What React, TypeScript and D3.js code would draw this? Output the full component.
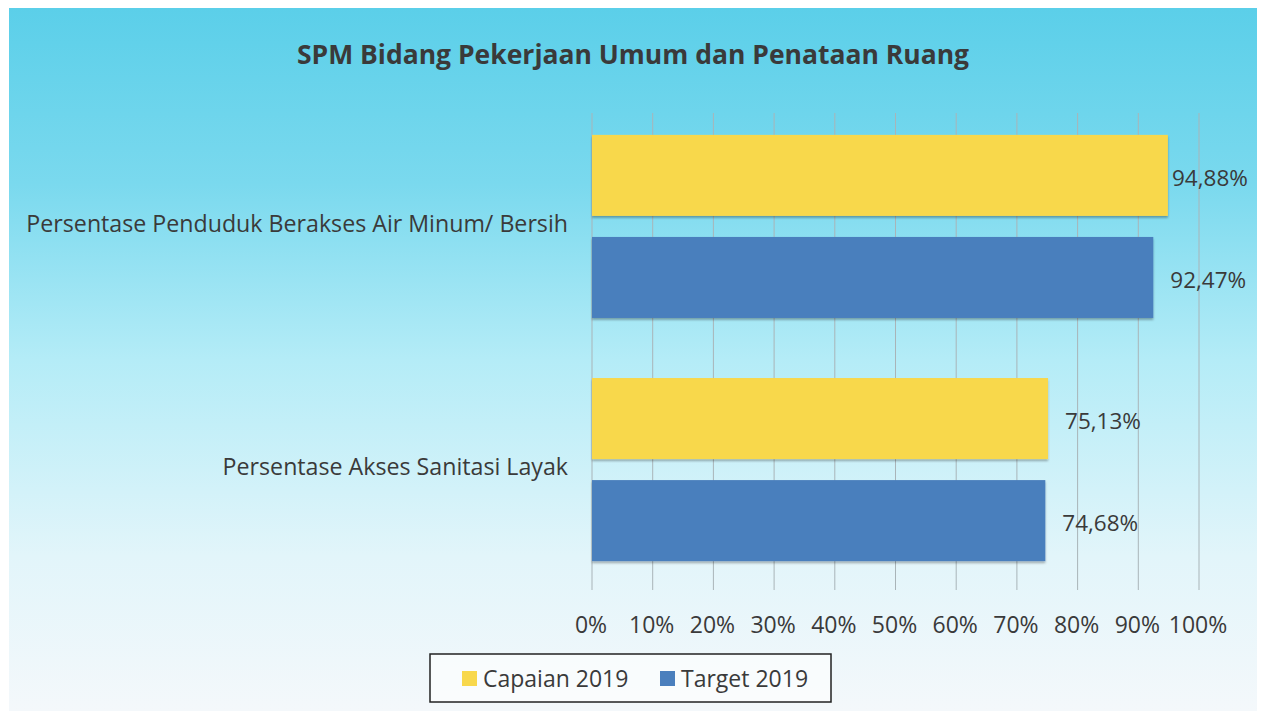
import React from "react";
import * as d3 from "d3";

const categories = [
  "Persentase Penduduk Berakses Air Minum/ Bersih",
  "Persentase Akses Sanitasi Layak",
];
const seriesNames = ["Capaian 2019", "Target 2019"];
const capaian = [94.88, 75.13];
const target = [92.47, 74.68];
const valueLabels = [
  ["94,88%", "92,47%"],
  ["75,13%", "74,68%"],
];
const xTicks = [0, 10, 20, 30, 40, 50, 60, 70, 80, 90, 100];
const title = "SPM Bidang Pekerjaan Umum dan Penataan Ruang";

const W = 1263;
const H = 711;
const FONT = "'Open Sans', Lato, sans-serif";
const TEXT = "#3a3a3a";
const colors = ["#f8d84c", "#4a7fbd"];

export default function App() {
  const plotLeft = 592;
  const plotRight = 1199;
  const plotTop = 113;
  const plotBottom = 590;

  const x = d3.scaleLinear().domain([0, 100]).range([plotLeft, plotRight]);
  const y0 = d3
    .scaleBand<string>()
    .domain(categories)
    .range([plotTop, 583])
    .paddingInner(0.247)
    .paddingOuter(0.09);
  const y1 = d3
    .scaleBand<string>()
    .domain(seriesNames)
    .range([0, y0.bandwidth()])
    .paddingInner(0.206);

  const series = [capaian, target];
  const labelMaxX = 1172;

  return (
    <svg
      width={W}
      height={H}
      viewBox={`0 0 ${W} ${H}`}
      style={{ position: "absolute", left: 0, top: 0, display: "block" }}
    >
      <defs>
        <linearGradient id="bg" x1="0" y1="0" x2="0" y2="1">
          <stop offset="0%" stopColor="#5bcfe9" />
          <stop offset="25%" stopColor="#7ad9ee" />
          <stop offset="50%" stopColor="#b4ecf7" />
          <stop offset="78%" stopColor="#e2f5fa" />
          <stop offset="100%" stopColor="#f4f8fb" />
        </linearGradient>
        <filter id="shadow" x="-5%" y="-5%" width="110%" height="120%">
          <feDropShadow dx="0" dy="2" stdDeviation="1.2" floodColor="#000" floodOpacity="0.3" />
        </filter>
      </defs>
      <rect x={0} y={0} width={W} height={H} fill="#ffffff" />
      <rect x={9} y={8} width={1248} height={H - 8} fill="url(#bg)" />

      <text
        x={633}
        y={64}
        textAnchor="middle"
        fontFamily={FONT}
        fontWeight="bold"
        fontSize={26.5}
        fill={TEXT}
      >
        {title}
      </text>

      {/* gridlines */}
      {xTicks.map((t) => (
        <line
          key={"g" + t}
          x1={x(t)}
          x2={x(t)}
          y1={plotTop}
          y2={plotBottom}
          stroke="#a9b4b8"
          strokeWidth={1}
        />
      ))}

      {/* bars */}
      {categories.map((c, ci) => (
        <g key={c} transform={`translate(0,${y0(c)})`}>
          {seriesNames.map((s, si) => {
            const v = series[si][ci];
            const yy = y1(s) as number;
            return (
              <g key={s}>
                <rect
                  x={x(0)}
                  y={yy}
                  width={x(v) - x(0)}
                  height={y1.bandwidth()}
                  fill={colors[si]}
                  filter="url(#shadow)"
                />
                <text
                  x={Math.min(x(v) + 17, labelMaxX)}
                  y={yy + y1.bandwidth() / 2 + 3}
                  dy="0.35em"
                  fontFamily={FONT}
                  fontSize={22.5}
                  fill={TEXT}
                >
                  {valueLabels[ci][si]}
                </text>
              </g>
            );
          })}
          <text
            x={568}
            y={y0.bandwidth() / 2 - 3}
            dy="0.35em"
            textAnchor="end"
            fontFamily={FONT}
            fontSize={23.2}
            fill={TEXT}
          >
            {c}
          </text>
        </g>
      ))}

      {/* x tick labels */}
      {xTicks.map((t) => (
        <text
          key={"t" + t}
          x={x(t) - 1}
          y={625}
          dy="0.35em"
          textAnchor="middle"
          fontFamily={FONT}
          fontSize={23}
          fill={TEXT}
        >
          {t + "%"}
        </text>
      ))}

      {/* legend */}
      <rect x={430} y={654} width={401} height={48} fill="#ffffff" fillOpacity={0.6} stroke="#222" strokeWidth={1.5} />
      {seriesNames.map((s, i) => {
        const lx = i === 0 ? 462 : 660;
        return (
          <g key={s}>
            <rect x={lx} y={671} width={15} height={15} fill={colors[i]} />
            <text x={lx + 21} y={678.5} dy="0.35em" fontFamily={FONT} fontSize={23} fill={TEXT}>
              {s}
            </text>
          </g>
        );
      })}
    </svg>
  );
}
